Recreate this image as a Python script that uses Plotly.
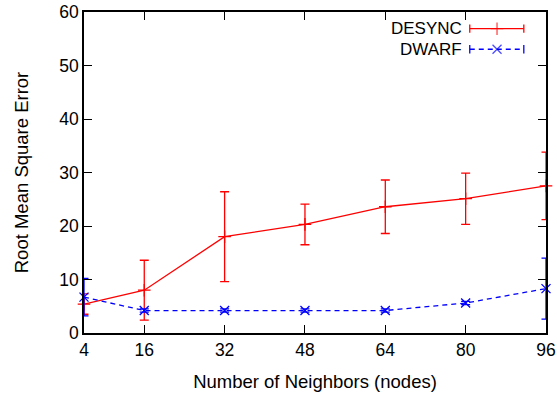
import plotly.graph_objects as go

# Neighbour counts on the x axis
neighbors = [4, 16, 32, 48, 64, 80, 96]

# DESYNC: mean RMSE and error-bar half widths
desync_rmse = [5.4, 8.0, 18.0, 20.3, 23.6, 25.1, 27.5]
desync_err = [1.9, 5.6, 8.4, 3.8, 5.0, 4.8, 6.3]

# DWARF: mean RMSE and error-bar half widths
dwarf_rmse = [6.7, 4.2, 4.2, 4.2, 4.2, 5.6, 8.3]
dwarf_err = [3.5, 0.3, 0.3, 0.3, 0.3, 0.3, 5.7]

x_ticks = [4, 16, 32, 48, 64, 80, 96]
y_ticks = [0, 10, 20, 30, 40, 50, 60]

RED = "#ff0000"
BLUE = "#0000ff"
FAMILY = "Liberation Sans, Arial, sans-serif"
TEXT_FONT = dict(family=FAMILY, size=18.5, color="#000000")
TICK_FONT = dict(family=FAMILY, size=17.5, color="#000000")
KEY_FONT = dict(family=FAMILY, size=17, color="#000000")
DASH = "5px,4px"

fig = go.Figure()

fig.add_trace(go.Scatter(
    x=neighbors, y=desync_rmse, name="DESYNC",
    mode="lines+markers",
    line=dict(color=RED, width=1.3),
    marker=dict(symbol="cross-thin", size=9, line=dict(color=RED, width=1.3)),
    error_y=dict(type="data", array=desync_err, visible=True,
                 color=RED, thickness=1.3, width=4.5),
    cliponaxis=False,
))

fig.add_trace(go.Scatter(
    x=neighbors, y=dwarf_rmse, name="DWARF",
    mode="lines+markers",
    line=dict(color=BLUE, width=1.3, dash=DASH),
    marker=dict(symbol="x-thin", size=9, line=dict(color=BLUE, width=1.3)),
    error_y=dict(type="data", array=dwarf_err, visible=True,
                 color=BLUE, thickness=1.3, width=4.5),
    cliponaxis=False,
))

# Key samples (text then line sample), drawn on an overlay axis spanning the plot area
key_x = [0.835, 0.894, 0.952]
key_rows = [
    ("DESYNC", RED, "solid", "cross-thin", 0.948),
    ("DWARF", BLUE, DASH, "x-thin", 0.884),
]
for label, color, dash, symbol, ky in key_rows:
    fig.add_trace(go.Scatter(
        x=key_x, y=[ky] * 3, xaxis="x2", yaxis="y2",
        mode="lines+markers", showlegend=False, hoverinfo="skip",
        line=dict(color=color, width=1.3, dash=dash),
        marker=dict(symbol=symbol, size=[0, 9, 0], line=dict(color=color, width=1.3)),
        error_y=dict(type="data", array=[0.013, 0, 0.013], visible=True,
                     color=color, thickness=1.3, width=0),
        cliponaxis=False,
    ))
    fig.add_annotation(
        x=0.82, y=ky, xref="x2", yref="y2", text=label, showarrow=False,
        xanchor="right", yanchor="middle", font=KEY_FONT, borderpad=0,
    )

axis_common = dict(
    showgrid=False, zeroline=False, showline=True, linecolor="#000000",
    linewidth=1.5, mirror="allticks", ticks="inside", ticklen=8,
    tickwidth=1.2, tickcolor="#000000", tickfont=TICK_FONT,
    automargin=False,
)

fig.update_layout(
    width=557, height=394,
    margin=dict(l=84, r=11, t=12, b=61),
    paper_bgcolor="#ffffff", plot_bgcolor="#ffffff",
    showlegend=False,
    font=TEXT_FONT,
    xaxis=dict(
        range=[4, 96], tickmode="array", tickvals=x_ticks,
        ticktext=[str(v) for v in x_ticks],
        title=dict(text="Number of Neighbors (nodes)", font=TEXT_FONT, standoff=16),
        **axis_common,
    ),
    yaxis=dict(
        range=[0, 60], tickmode="array", tickvals=y_ticks,
        ticktext=[str(v) for v in y_ticks],
        title=dict(text="Root Mean Square Error", font=TEXT_FONT, standoff=26),
        **axis_common,
    ),
    xaxis2=dict(range=[0, 1], overlaying="x", visible=False, fixedrange=True),
    yaxis2=dict(range=[0, 1], overlaying="y", visible=False, fixedrange=True),
)

fig.write_html("out.html")
